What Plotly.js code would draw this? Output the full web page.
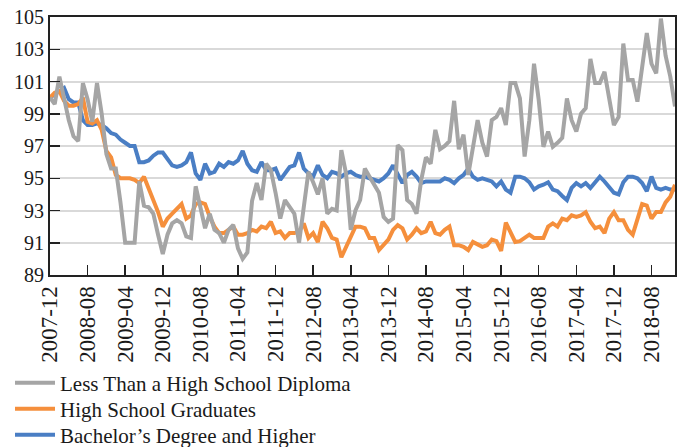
<!DOCTYPE html>
<html>
<head>
<meta charset="utf-8">
<script src="https://cdn.plot.ly/plotly-3.0.1.min.js"></script>
<style>
html,body{margin:0;padding:0;background:#fff;}
#chart{width:678px;height:447px;}
</style>
</head>
<body>
<div id="chart"></div>
<script>
// Monthly index values, 2007-12 = 100, one value per month from 2007-12 to 2019-01
const startYear = 2007, startMonth = 12;

const lessThanHS = [
100.0, 99.6, 101.3, 99.9, 98.6, 97.6, 97.3, 100.9, 99.9, 98.5,
100.9, 99.0, 96.5, 95.6, 95.6, 93.5, 91.0, 91.0, 91.0, 94.8,
93.3, 93.2, 92.8, 91.5, 90.3, 91.5, 92.2, 92.4, 92.2, 91.4,
91.3, 94.5, 93.3, 91.9, 92.8, 91.8, 91.6, 91.0, 91.8, 92.1,
90.65, 90.0, 90.4, 93.6, 94.7, 93.65, 95.9, 95.5, 94.1, 92.5,
93.65, 93.2, 92.8, 91.0, 93.3, 95.4, 94.75, 94.0, 95.0, 92.8,
93.1, 93.0, 96.75, 95.3, 91.8, 93.0, 93.65, 95.6, 95.1, 94.6,
94.1, 92.6, 92.3, 92.5, 97.05, 96.75, 93.65, 93.4, 92.8, 94.9,
96.3, 95.9, 98.0, 96.8, 97.0, 97.3, 99.8, 96.8, 97.7, 95.2,
97.0, 98.6, 97.2, 96.35, 98.6, 98.8, 99.35, 98.3, 100.9, 100.9,
99.95, 96.35, 98.6, 102.1, 99.85, 96.95, 97.9, 96.95, 97.2, 97.5,
99.95, 98.6, 97.9, 99.0, 99.35, 102.4, 100.9, 100.9, 101.6, 99.85,
98.3, 98.8, 103.35, 101.1, 101.1, 99.75, 101.9, 104.0, 102.1, 101.5,
104.9, 102.6, 101.3, 99.45
];

const highSchool = [
100.0, 100.3, 100.4, 99.8, 99.5, 99.5, 99.6, 100.0, 98.5, 98.4,
98.6, 98.0, 96.7, 96.3, 95.2, 95.0, 95.0, 95.0, 94.9, 94.7,
95.1, 94.4, 93.7, 92.9, 92.0, 92.5, 92.8, 93.1, 93.4, 92.5,
92.7, 93.4, 93.5, 93.4, 92.6, 92.0, 91.6, 91.6, 91.8, 92.0,
91.5, 91.5, 91.6, 91.8, 91.7, 92.0, 91.9, 92.3, 91.6, 91.7,
91.3, 91.6, 91.6, 91.7, 92.2, 91.3, 91.6, 91.05, 92.3, 91.9,
91.3, 91.2, 90.1, 90.75, 91.3, 92.0, 92.0, 91.9, 91.3, 91.3,
90.55, 90.9, 91.2, 91.8, 92.1, 91.9, 91.2, 91.5, 91.9, 91.6,
91.7, 92.3, 91.6, 91.5, 91.8, 92.0, 90.85, 90.85, 90.75, 90.55,
91.05, 90.9, 90.75, 90.85, 91.2, 91.1, 90.5, 92.25, 91.65, 91.05,
91.1, 91.3, 91.5, 91.3, 91.3, 91.3, 92.0, 92.2, 92.0, 92.5,
92.4, 92.7, 92.6, 92.7, 92.9, 92.3, 91.9, 92.0, 91.6, 92.5,
92.9, 92.4, 92.4, 91.8, 91.5, 92.4, 93.4, 93.3, 92.5, 92.9,
92.9, 93.5, 93.85, 94.6
];

const bachelors = [
100.0, 100.2, 100.4, 100.6, 99.9, 99.7, 99.7, 98.6, 98.3, 98.3,
98.4, 98.3, 98.1, 97.8, 97.7, 97.4, 97.2, 97.0, 97.0, 96.0,
96.0, 96.1, 96.4, 96.6, 96.6, 96.2, 95.8, 95.7, 95.8, 96.0,
96.6, 95.3, 94.9, 95.9, 95.3, 95.4, 95.9, 95.7, 96.0, 95.9,
96.1, 96.7, 95.9, 95.5, 95.4, 96.0, 95.5, 95.5, 95.6, 94.9,
95.3, 95.7, 95.8, 96.6, 95.6, 95.3, 95.1, 95.8, 95.2, 95.0,
95.4, 95.3, 95.1, 95.3, 95.4, 95.2, 95.1, 95.1, 95.0, 94.9,
94.8, 95.0, 95.3, 95.8, 95.2, 94.7, 95.2, 95.4, 95.1, 94.7,
94.8, 94.8, 94.8, 94.8, 95.0, 94.9, 94.7, 95.0, 95.2, 95.6,
95.1, 94.9, 95.0, 94.9, 94.8, 94.5, 94.8, 94.3, 94.1, 95.1,
95.1, 95.0, 94.75, 94.3, 94.5, 94.6, 94.75, 94.3, 94.2, 93.9,
93.65, 94.4, 94.7, 94.5, 94.7, 94.4, 94.8, 95.1, 94.8, 94.4,
94.1, 94.0, 94.75, 95.1, 95.1, 95.0, 94.7, 94.2, 95.1, 94.4,
94.3, 94.4, 94.3, 94.3
];

const tickLabels = ['2007-12','2008-08','2009-04','2009-12','2010-08','2011-04','2011-12',
  '2012-08','2013-04','2013-12','2014-08','2015-04','2015-12','2016-08','2017-04','2017-12','2018-08'];

const seriesNames = ['Less Than a High School Diploma', 'High School Graduates', 'Bachelor\u2019s Degree and Higher'];
const seriesColors = ['#a5a5a5', '#f58f3c', '#4a7ec4'];

// month categories
const months = [];
for (let k = 0; k < lessThanHS.length; k++) {
  const m0 = startMonth - 1 + k;
  const y = startYear + Math.floor(m0 / 12);
  const m = (m0 % 12) + 1;
  months.push(y + '-' + (m < 10 ? '0' + m : '' + m));
}

const FONT = 'Liberation Serif, Times New Roman, serif';
const values = [lessThanHS, highSchool, bachelors];
const legendIds = ['legend', 'legend2', 'legend3'];
const traces = [];
for (let s = 2; s >= 0; s--) {
  traces.push({
    x: months, y: values[s], type: 'scatter', mode: 'lines',
    name: seriesNames[s], legend: legendIds[s],
    line: {color: seriesColors[s], width: 4, shape: 'linear'},
    hoverinfo: 'skip'
  });
}

function legendAt(yPix) {
  return {
    orientation: 'v',
    xref: 'container', yref: 'container',
    x: 10 / 678, xanchor: 'left', y: 1 - yPix / 447, yanchor: 'middle',
    font: {family: FONT, size: 21, color: '#1a1a1a'},
    itemwidth: 40,
    bgcolor: 'rgba(0,0,0,0)', borderwidth: 0
  };
}

const layout = {
  width: 678, height: 447,
  margin: {l: 50, r: 3, t: 17, b: 172, autoexpand: false},
  paper_bgcolor: '#ffffff', plot_bgcolor: '#ffffff',
  font: {family: FONT, size: 20, color: '#1a1a1a'},
  showlegend: true,
  legend: legendAt(383),
  legend2: legendAt(409),
  legend3: legendAt(435),
  xaxis: {
    type: 'category', range: [0, months.length - 1],
    tickmode: 'array', tickvals: tickLabels, ticktext: tickLabels,
    tickangle: -90, ticks: 'inside', ticklen: 10, tickwidth: 1.5, tickcolor: '#222',
    showline: true, linecolor: '#222', linewidth: 2, mirror: true,
    showgrid: false, zeroline: false,
    tickfont: {family: FONT, size: 23, color: '#1a1a1a'}
  },
  yaxis: {
    range: [89, 105], tick0: 89, dtick: 2, tickmode: 'linear',
    ticks: 'inside', ticklen: 10, tickwidth: 1.5, tickcolor: '#222',
    showline: true, linecolor: '#222', linewidth: 2, mirror: true,
    showgrid: true, gridcolor: '#d9d9d9', gridwidth: 2, zeroline: false,
    tickfont: {family: FONT, size: 20, color: '#1a1a1a'}
  }
};

Plotly.newPlot('chart', traces, layout, {displayModeBar: false, staticPlot: true});
</script>
</body>
</html>
